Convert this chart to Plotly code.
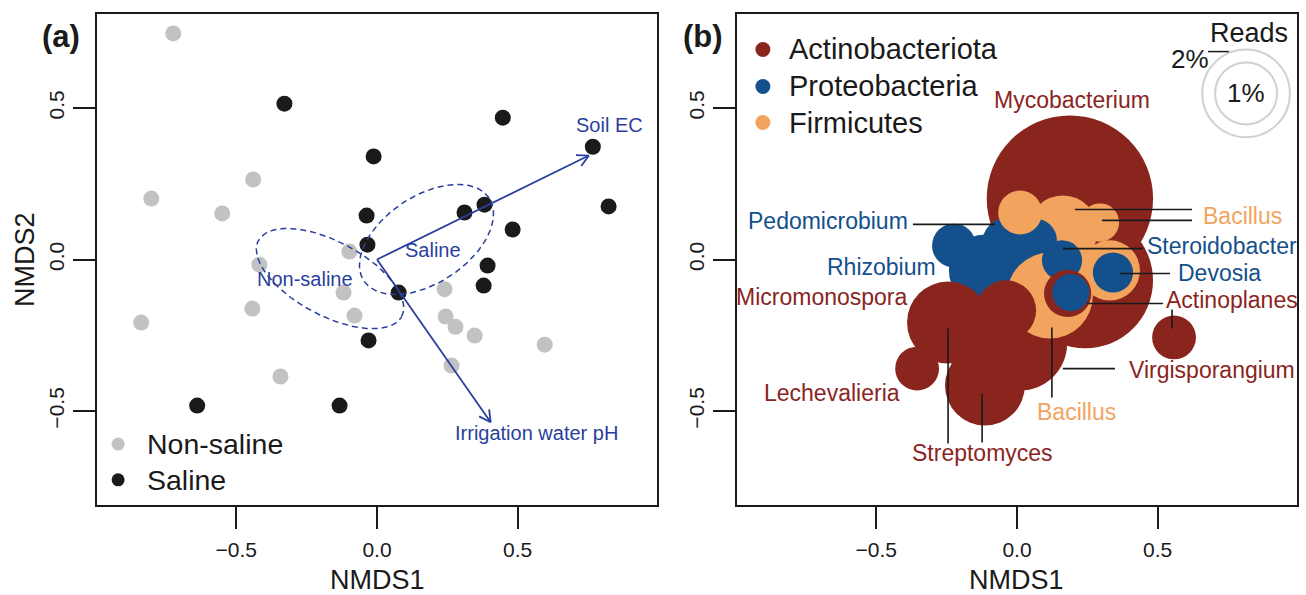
import numpy as np
import plotly.graph_objects as go

FONT = "Liberation Sans, Arial, Helvetica, sans-serif"
BLUE_TXT = "#2A3F9D"
RED = "#8A251E"
BLUE = "#13508C"
ORANGE = "#F2A45E"

# ---------------- Panel (a): sample NMDS scores ----------------
nonsaline_nmds1 = [-0.724, -0.802, -0.440, -0.550, -0.418, -0.838, -0.443, -0.343, -0.098,
                   -0.119, -0.080, 0.240, 0.244, 0.279, 0.347, 0.265, 0.596]
nonsaline_nmds2 = [0.746, 0.201, 0.264, 0.152, -0.017, -0.208, -0.162, -0.386, 0.026,
                   -0.109, -0.185, -0.098, -0.188, -0.222, -0.251, -0.350, -0.281]
saline_nmds1 = [-0.329, -0.012, 0.447, 0.767, 0.823, -0.037, -0.034, 0.311, 0.382,
                0.482, 0.393, 0.379, 0.077, -0.030, -0.639, -0.133]
saline_nmds2 = [0.514, 0.340, 0.468, 0.372, 0.175, 0.145, 0.049, 0.155, 0.181,
                0.099, -0.020, -0.086, -0.109, -0.267, -0.482, -0.482]

# environmental vectors (envfit arrows)
env_names = ["Soil EC", "Irrigation water pH"]
env_nmds1 = [0.753, 0.404]
env_nmds2 = [0.343, -0.537]
env_label_x = [0.825, 0.568]
env_label_y = [0.444, -0.573]

# group dispersion ellipses: centre and the two semi-axis vectors
group_names = ["Non-saline", "Saline"]
ell_cx = [-0.167, 0.176]
ell_cy = [-0.063, 0.066]
ell_ax1 = [(0.2545, -0.1254), (0.2225, 0.1366)]
ell_ax2 = [(0.0619, 0.1079), (-0.0854, 0.1198)]
group_label_x = [-0.256, 0.199]
group_label_y = [-0.063, 0.030]

# ---------------- Panel (b): genus bubbles (drawing order) ----------------
genus = ["Mycobacterium", "", "Virgisporangium", "Bacillus", "", "", "Rhizobium",
         "Pedomicrobium", "", "Bacillus", "Bacillus", "Bacillus", "Steroidobacter",
         "Actinoplanes", "", "Devosia", "Streptomyces", "Micromonospora", "Streptomyces",
         "Lechevalieria", "Actinoplanes"]
phylum = ["Actinobacteriota", "Actinobacteriota", "Actinobacteriota", "Firmicutes", "Firmicutes",
          "Proteobacteria", "Proteobacteria", "Proteobacteria", "Proteobacteria", "Firmicutes",
          "Firmicutes", "Firmicutes", "Proteobacteria", "Actinobacteriota", "Proteobacteria",
          "Proteobacteria", "Actinobacteriota", "Actinobacteriota", "Actinobacteriota",
          "Actinobacteriota", "Actinobacteriota"]
genus_nmds1 = [0.188, 0.242, 0.011, 0.163, 0.330, -0.114, -0.224, -0.032, 0.064, 0.117,
               0.011, 0.295, 0.160, 0.180, 0.191, 0.341, -0.245, -0.039, -0.114, -0.355, 0.558]
genus_nmds2 = [0.201, -0.069, -0.277, 0.096, -0.036, -0.036, 0.046, 0.053, 0.063, -0.119,
               0.155, 0.122, -0.003, -0.112, -0.109, -0.043, -0.208, -0.168, -0.416, -0.360, -0.257]
genus_reads = [7.2, 4.8, 2.3, 1.27, 0.94, 1.35, 0.50, 0.70, 0.50, 1.92,
               0.50, 0.38, 0.42, 0.58, 0.36, 0.42, 1.75, 0.94, 1.66, 0.50, 0.50]

phylum_names = ["Actinobacteriota", "Proteobacteria", "Firmicutes"]
phylum_colors = {"Actinobacteriota": RED, "Proteobacteria": BLUE, "Firmicutes": ORANGE}

# labels of panel b: text, x, y, anchor, phylum
label_text = ["Mycobacterium", "Bacillus", "Pedomicrobium", "Rhizobium", "Steroidobacter",
              "Devosia", "Micromonospora", "Actinoplanes", "Lechevalieria", "Virgisporangium",
              "Bacillus", "Streptomyces"]
label_x = [0.196, 0.654, -0.380, -0.281, 0.455, 0.565, -0.383, 0.522, -0.409, 0.392, 0.213, -0.121]
label_y = [0.525, 0.145, 0.126, -0.026, 0.046, -0.046, -0.125, -0.135, -0.442, -0.366, -0.502, -0.640]
label_anchor = ["center", "left", "right", "right", "left", "left", "right", "left", "right",
                "left", "center", "center"]
label_phylum = ["Actinobacteriota", "Firmicutes", "Proteobacteria", "Proteobacteria",
                "Proteobacteria", "Proteobacteria", "Actinobacteriota", "Actinobacteriota",
                "Actinobacteriota", "Actinobacteriota", "Firmicutes", "Actinobacteriota"]

# leader segments (x0, y0, x1, y1)
leader_segments = [(-0.370, 0.116, -0.078, 0.116), (0.206, 0.165, 0.622, 0.165),
                   (0.302, 0.129, 0.622, 0.129), (0.163, 0.036, 0.448, 0.036),
                   (0.366, -0.046, 0.544, -0.046), (0.249, -0.145, 0.519, -0.145),
                   (0.551, -0.165, 0.551, -0.228), (0.163, -0.360, 0.348, -0.360),
                   (0.124, -0.224, 0.124, -0.455), (-0.245, -0.228, -0.245, -0.607),
                   (-0.124, -0.442, -0.124, -0.604)]

reads_legend = [2, 1]

# ---------------- geometry helpers ----------------
W, H = 1306, 595
XR = [-0.995, 0.995]
YR = [-0.81, 0.81]
ax_l, ax_r, bx_l, bx_r = 97, 657, 737, 1297
y_top, y_bot = 14, 505
SX = (ax_r - ax_l) / (XR[1] - XR[0])
SY = (y_bot - y_top) / (YR[1] - YR[0])
K = 31.0  # bubble radius (px) per sqrt(% reads)

fig = go.Figure()

# ---- panel a points
fig.add_trace(go.Scatter(x=nonsaline_nmds1, y=nonsaline_nmds2, mode="markers",
                         marker=dict(size=16, color="#C2C2C2"), xaxis="x", yaxis="y"))
fig.add_trace(go.Scatter(x=saline_nmds1, y=saline_nmds2, mode="markers",
                         marker=dict(size=16, color="#1A1A1A"), xaxis="x", yaxis="y"))

# ---- ellipses
t = np.linspace(0, 2 * np.pi, 200)
for cx, cy, a1, a2 in zip(ell_cx, ell_cy, ell_ax1, ell_ax2):
    ex = cx + np.cos(t) * a1[0] + np.sin(t) * a2[0]
    ey = cy + np.cos(t) * a1[1] + np.sin(t) * a2[1]
    fig.add_trace(go.Scatter(x=ex, y=ey, mode="lines",
                             line=dict(color=BLUE_TXT, width=1.5, dash="6px,4px"),
                             xaxis="x", yaxis="y"))

# ---- arrows
for tx, ty in zip(env_nmds1, env_nmds2):
    px, py = tx * SX, ty * SY
    ang = np.arctan2(py, px)
    segx = [0, tx, None]
    segy = [0, ty, None]
    for d in (np.pi - np.radians(28), np.pi + np.radians(28)):
        segx += [tx, tx + 13 * np.cos(ang + d) / SX, None]
        segy += [ty, ty + 13 * np.sin(ang + d) / SY, None]
    fig.add_trace(go.Scatter(x=segx, y=segy, mode="lines",
                             line=dict(color=BLUE_TXT, width=1.8),
                             xaxis="x", yaxis="y"))

# ---- panel a legend markers
fig.add_trace(go.Scatter(x=[-0.920, -0.920], y=[-0.609, -0.727], mode="markers",
                         marker=dict(size=13, color=["#C2C2C2", "#1A1A1A"]),
                         xaxis="x", yaxis="y"))

# ---- panel b bubbles
fig.add_trace(go.Scatter(x=genus_nmds1, y=genus_nmds2, mode="markers",
                         marker=dict(size=[2 * K * np.sqrt(r) for r in genus_reads],
                                     color=[phylum_colors[p] for p in phylum],
                                     line=dict(width=0), opacity=1),
                         xaxis="x2", yaxis="y2", cliponaxis=False))

# reads legend circles
fig.add_trace(go.Scatter(x=[0.814] * 2, y=[0.548] * 2, mode="markers",
                         marker=dict(symbol="circle-open",
                                     size=[2 * K * np.sqrt(r) for r in reads_legend],
                                     color="#BDBDBD", line=dict(width=2, color="#BDBDBD")),
                         xaxis="x2", yaxis="y2"))

# panel b legend markers
fig.add_trace(go.Scatter(x=[-0.903] * 3, y=[0.693, 0.571, 0.452], mode="markers",
                         marker=dict(size=15, color=[phylum_colors[p] for p in phylum_names]),
                         xaxis="x2", yaxis="y2"))

shapes = []
for x0, y0, x1, y1 in leader_segments:
    shapes.append(dict(type="line", xref="x2", yref="y2", x0=x0, y0=y0, x1=x1, y1=y1,
                       line=dict(color="#1A1A1A", width=1.6)))
shapes.append(dict(type="line", xref="x2", yref="y2", x0=0.679, y0=0.686, x1=0.753, y1=0.686,
                   line=dict(color="#1A1A1A", width=1.5)))

ann = []
def A(text, x, y, xref, yref, size, color="#1A1A1A", xanchor="center", **kw):
    ann.append(dict(text=text, x=x, y=y, xref=xref, yref=yref, showarrow=False,
                    xanchor=xanchor, yanchor="middle",
                    font=dict(family=FONT, size=size, color=color), **kw))

for name, x, y in zip(env_names, env_label_x, env_label_y):
    A(name, x, y, "x", "y", 20, BLUE_TXT)
for name, x, y in zip(group_names, group_label_x, group_label_y):
    A(name, x, y, "x", "y", 20, BLUE_TXT)
A("Non-saline", -0.826, -0.609, "x", "y", 28.5, xanchor="left")
A("Saline", -0.826, -0.727, "x", "y", 28.5, xanchor="left")

for txt, x, y, anc, ph in zip(label_text, label_x, label_y, label_anchor, label_phylum):
    A(txt, x, y, "x2", "y2", 23, phylum_colors[ph], xanchor=anc)
for i, ph in enumerate(phylum_names):
    A(ph, -0.819, [0.693, 0.571, 0.452][i], "x2", "y2", 29, xanchor="left")
A("Reads", 0.826, 0.746, "x2", "y2", 27)
A("2%", 0.616, 0.663, "x2", "y2", 26)
A("1%", 0.814, 0.551, "x2", "y2", 26)

# axis titles and panel tags (paper coords)
def P(xpx, ypx):
    return xpx / W, 1 - ypx / H
for xc in (377, 1017):
    px_, py_ = P(xc, 580)
    A("NMDS1", px_, py_, "paper", "paper", 27)
px_, py_ = P(25, 259)
A("NMDS2", px_, py_, "paper", "paper", 27, textangle=-90)
px_, py_ = P(61, 36)
A("<b>(a)</b>", px_, py_, "paper", "paper", 31)
px_, py_ = P(703, 36)
A("<b>(b)</b>", px_, py_, "paper", "paper", 31)

axis_common = dict(showgrid=False, zeroline=False, showline=True, mirror=True,
                   linecolor="#1A1A1A", linewidth=1.5, ticks="outside", ticklen=22,
                   tickwidth=1.5, tickcolor="#1A1A1A",
                   tickfont=dict(family=FONT, size=21, color="#1A1A1A"),
                   tickvals=[-0.5, 0, 0.5], ticktext=["\u22120.5", "0.0", "0.5"])
xa = dict(axis_common, range=XR, ticklabelstandoff=3)
ya = dict(axis_common, range=YR, tickangle=-90, ticklabelstandoff=1)

fig.update_layout(
    width=W, height=H, margin=dict(l=0, r=0, t=0, b=0),
    plot_bgcolor="white", paper_bgcolor="white", showlegend=False,
    xaxis=dict(xa, domain=[ax_l / W, ax_r / W], anchor="y"),
    yaxis=dict(ya, domain=[1 - y_bot / H, 1 - y_top / H], anchor="x"),
    xaxis2=dict(xa, domain=[bx_l / W, bx_r / W], anchor="y2"),
    yaxis2=dict(ya, domain=[1 - y_bot / H, 1 - y_top / H], anchor="x2"),
    shapes=shapes, annotations=ann,
    font=dict(family=FONT),
)

fig.write_html("out.html")
